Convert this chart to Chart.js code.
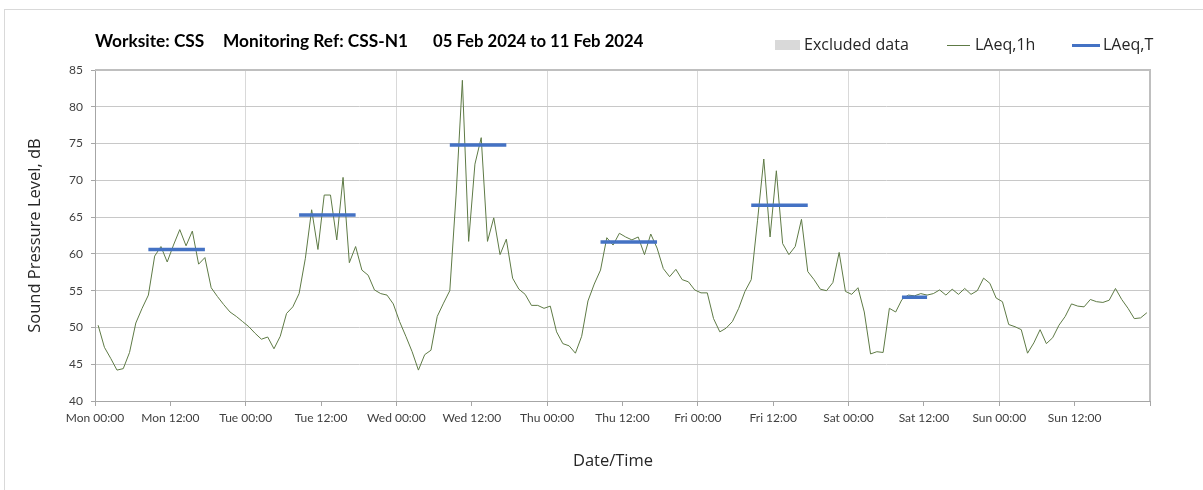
<!DOCTYPE html>
<html>
<head>
<meta charset="utf-8">
<script src="https://cdn.jsdelivr.net/npm/chart.js@4"></script>
<style>
  html, body { margin: 0; padding: 0; background: #fff; }
  #wrap { position: relative; width: 1203px; height: 490px; overflow: hidden; }
  #frame { position: absolute; left: 4px; top: 9px; width: 1220px; height: 500px; border: 1px solid #d9d9d9; box-sizing: border-box; }
  .tt { position: absolute; top: 30px; font-family: Lato, "Open Sans", sans-serif; font-weight: bold; font-size: 17.3px; color: #000; white-space: pre; }
  #legend { position: absolute; top: 33px; left: 775px; font-family: "Open Sans", sans-serif; font-size: 16px; color: #262626; white-space: nowrap; }
  .li { position: absolute; top: 0; }
  .sw { position: absolute; }
  #xtitle { position: absolute; top: 448px; left: 613px; transform: translateX(-50%); font-family: "Open Sans", sans-serif; font-size: 16.5px; color: #262626; white-space: nowrap; }
  canvas { position: absolute; left: 0; top: 0; }
</style>
</head>
<body>
<div id="wrap">
  <div id="frame"></div>
  <canvas id="c" width="1203" height="490"></canvas>
  <div class="tt" style="left:95px;">Worksite: CSS</div>
  <div class="tt" style="left:223px;">Monitoring Ref: CSS-N1</div>
  <div class="tt" style="left:433px;font-size:16.7px;top:30.5px;">05 Feb 2024 to 11 Feb 2024</div>
  <div id="legend">
    <div class="sw" style="left:0px;top:7px;width:25px;height:10px;background:#d9d9d9;"></div>
    <div class="li" style="left:29px;">Excluded data</div>
    <div class="sw" style="left:172px;top:12px;width:23px;height:1px;background:#5e7a45;"></div>
    <div class="li" style="left:200px;">LAeq,1h</div>
    <div class="sw" style="left:297px;top:11px;width:28px;height:3px;background:#4472c4;"></div>
    <div class="li" style="left:328px;">LAeq,T</div>
  </div>
  <div id="xtitle">Date/Time</div>
</div>
<script>
// Hourly LAeq,1h values (hour index 0 = Mon 00:00)
const monday    = [50.3,47.3,45.8,44.2,44.4,46.6,50.6,52.6,54.4,59.7,61.0,58.9,61.2,63.3,61.1,63.1,58.6,59.5,55.4,54.2,53.1,52.1,51.5,50.8];
const tuesday   = [50.1,49.2,48.4,48.7,47.1,48.8,51.9,52.8,54.6,59.4,66.0,60.6,68.0,68.0,61.9,70.4,58.8,61.0,57.8,57.1,55.1,54.6,54.4,53.2];
const wednesday = [50.8,48.8,46.7,44.2,46.3,46.9,51.5,53.3,55.0,68.0,83.6,61.7,72.2,75.8,61.7,64.9,59.9,62.0,56.7,55.2,54.5,53.0,53.0,52.6];
const thursday  = [52.9,49.4,47.8,47.5,46.5,48.8,53.6,55.9,57.8,62.2,61.2,62.8,62.3,61.9,62.3,59.9,62.7,60.8,58.0,56.9,57.9,56.5,56.2,55.1];
const friday    = [54.7,54.7,51.2,49.4,49.9,50.8,52.6,54.9,56.5,64.5,72.9,62.3,71.3,61.4,59.9,61.0,64.7,57.6,56.5,55.2,55.0,56.1,60.2,54.9];
const saturday  = [54.5,55.4,52.1,46.4,46.7,46.6,52.6,52.1,53.8,54.4,54.3,54.6,54.4,54.6,55.1,54.4,55.2,54.5,55.3,54.5,55.0,56.7,56.0,54.0];
const sunday    = [53.5,50.4,50.1,49.7,46.5,47.9,49.7,47.8,48.6,50.3,51.5,53.2,52.9,52.8,53.8,53.5,53.4,53.7,55.3,53.8,52.6,51.2,51.3,52.0];

// LAeq,T periods: start hour, end hour (points plotted mid-hour), level
const periodStart = [8.5, 32.5, 56.5, 80.5, 104.5, 128.5];
const periodEnd   = [17.5, 41.5, 65.5, 89.5, 113.5, 132.5];
const periodLevel = [60.6, 65.3, 74.8, 61.6, 66.6, 54.1];

const dayNames = ['Mon','Tue','Wed','Thu','Fri','Sat','Sun'];
const yTicks = [40,45,50,55,60,65,70,75,80,85];

const hourly = [].concat(monday, tuesday, wednesday, thursday, friday, saturday, sunday);
const lineData = hourly.map((v, i) => ({ x: i + 0.5, y: v }));
const tData = [];
periodStart.forEach((s, i) => {
  tData.push({ x: s, y: periodLevel[i] });
  tData.push({ x: periodEnd[i], y: periodLevel[i] });
  tData.push({ x: periodEnd[i], y: null });
});

const tickFont = { family: 'Lato, "Open Sans", sans-serif', size: 12 };

new Chart(document.getElementById('c'), {
  type: 'line',
  data: {
    datasets: [
      { label: 'LAeq,1h', data: lineData, borderColor: '#5e7a45', borderWidth: 1, pointRadius: 0, tension: 0, order: 2 },
      { label: 'LAeq,T', data: tData, borderColor: '#4472c4', borderWidth: 3.5, pointRadius: 0, spanGaps: false, borderCapStyle: 'butt', order: 1 }
    ]
  },
  options: {
    responsive: false,
    animation: false,
    layout: { padding: { left: 0, right: 53, top: 70, bottom: 0 } },
    plugins: { legend: { display: false }, title: { display: false }, tooltip: { enabled: false } },
    scales: {
      x: {
        type: 'linear', min: 0, max: 168,
        afterFit: s => { s.height = 89; },
        afterBuildTicks: s => { s.ticks = []; for (let h = 0; h <= 168; h += 12) s.ticks.push({ value: h }); },
        ticks: {
          autoSkip: false, maxRotation: 0, minRotation: 0, padding: 5,
          color: '#404040', font: tickFont,
          callback: v => v >= 168 ? '' : dayNames[Math.floor(v / 24)] + ' ' + (v % 24 === 0 ? '00:00' : '12:00')
        },
        grid: {
          color: ctx => (ctx.tick && ctx.tick.value % 24 === 0) ? '#d9d9d9' : 'rgba(0,0,0,0)',
          tickColor: '#a6a6a6', tickLength: 5, lineWidth: 1
        },
        border: { color: '#a6a6a6', width: 1 },
        title: { display: false }
      },
      y: {
        min: 40, max: 85,
        afterFit: s => { s.width = 95; },
        afterBuildTicks: s => { s.ticks = yTicks.map(v => ({ value: v })); },
        ticks: { color: '#404040', font: tickFont, padding: 8 },
        grid: { color: '#c8c8c8', tickColor: '#a6a6a6', tickLength: 4, lineWidth: 1 },
        border: { color: '#a6a6a6', width: 1 },
        title: { display: true, text: 'Sound Pressure Level, dB', color: '#262626', font: { family: '"Open Sans", sans-serif', size: 16.5 }, padding: { top: 25, bottom: 25 } }
      }
    }
  },
  plugins: [{
    id: 'frameTopRight',
    afterDraw(chart) {
      const { ctx, chartArea: a } = chart;
      ctx.save();
      ctx.strokeStyle = '#bfbfbf';
      ctx.lineWidth = 2;
      ctx.beginPath();
      ctx.moveTo(a.left, a.top); ctx.lineTo(a.right, a.top); ctx.lineTo(a.right, a.bottom);
      ctx.stroke();
      ctx.restore();
    }
  }]
});
</script>
</body>
</html>
